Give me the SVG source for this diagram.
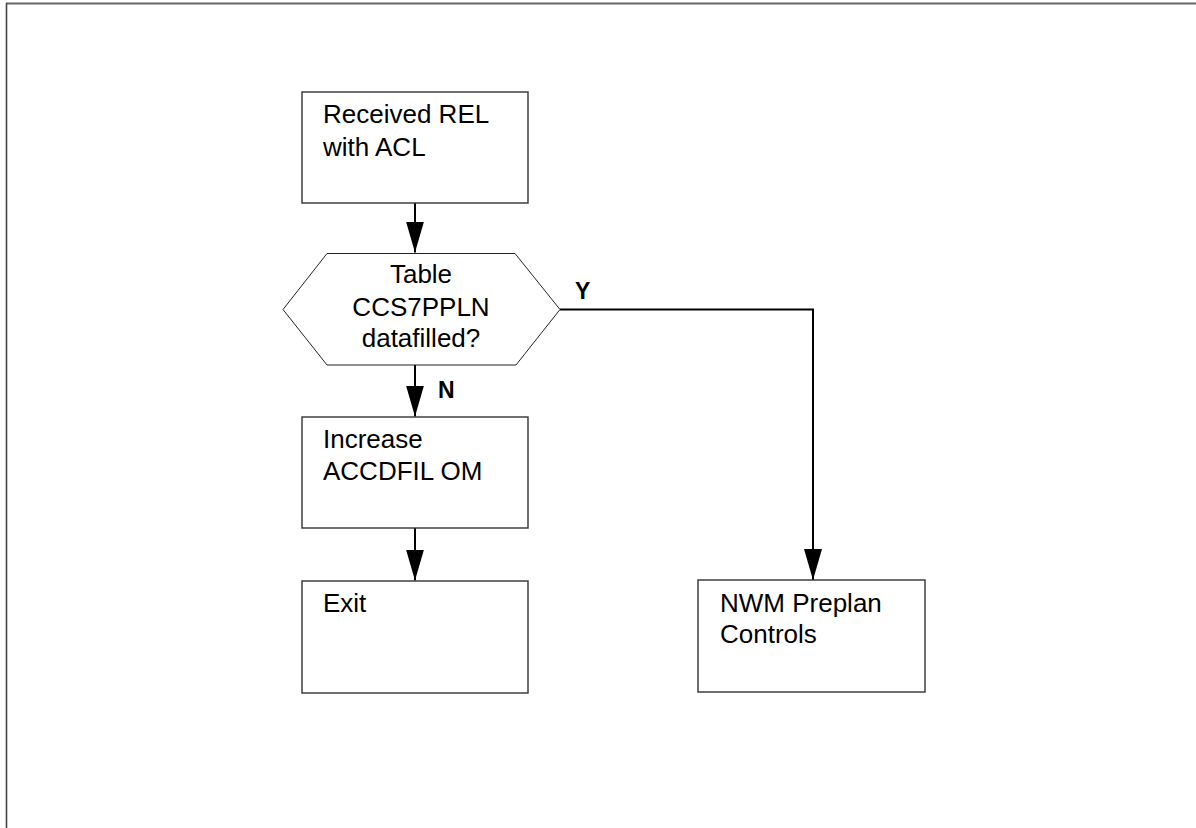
<svg xmlns="http://www.w3.org/2000/svg" width="1196" height="828" viewBox="0 0 1196 828">
<style>
.box{fill:#fff;stroke:#333;stroke-width:1.4}
.hex{fill:#fff;stroke:#222;stroke-width:1}
.t{font-family:"Liberation Sans",Arial,sans-serif;font-size:26px;fill:#000}
.lbl{font-family:"Liberation Sans",Arial,sans-serif;font-size:23px;font-weight:bold;fill:#000}
.conn{fill:none;stroke:#000;stroke-width:2}
</style>
<defs>
<marker id="ah" markerUnits="userSpaceOnUse" markerWidth="31" markerHeight="18" refX="31" refY="9" orient="auto" viewBox="0 0 31 18">
<path d="M0,0 L31,9 L0,18 Z" fill="#000"/>
</marker>
</defs>
<rect width="1196" height="828" fill="#fff"/>
<g id="frame">
<line x1="6" y1="3.5" x2="1196" y2="3.5" stroke="#666" stroke-width="2"/>
<line x1="6.5" y1="3" x2="6.5" y2="828" stroke="#444" stroke-width="1.6"/>
</g>
<g id="connectors">
<path class="conn" d="M415,203 L415,252.5" marker-end="url(#ah)"/>
<path class="conn" d="M415,365 L415,416.5" marker-end="url(#ah)"/>
<path class="conn" d="M415,528 L415,580.5" marker-end="url(#ah)"/>
<path class="conn" d="M560,309.5 L813,309.5 L813,580" marker-end="url(#ah)"/>
<text class="lbl" x="438" y="398">N</text>
<text class="lbl" x="575" y="299">Y</text>
</g>
<g id="n1">
<rect class="box" x="302" y="92" width="226" height="111"/>
<text class="t" x="323" y="123">Received REL</text>
<text class="t" x="323" y="155.5">with ACL</text>
</g>
<g id="n2">
<polygon class="hex" points="283,309.5 327,253.5 515,253.5 560,309.5 516,365 327,365"/>
<text class="t" x="421" y="283" text-anchor="middle">Table</text>
<text class="t" x="421" y="316" text-anchor="middle">CCS7PPLN</text>
<text class="t" x="421" y="347" text-anchor="middle">datafilled?</text>
</g>
<g id="n3">
<rect class="box" x="302" y="417" width="226" height="111"/>
<text class="t" x="323" y="448">Increase</text>
<text class="t" x="323" y="480">ACCDFIL OM</text>
</g>
<g id="n4">
<rect class="box" x="302" y="581" width="226" height="112"/>
<text class="t" x="323" y="612">Exit</text>
</g>
<g id="n5">
<rect class="box" x="698" y="580" width="227" height="112"/>
<text class="t" x="720" y="612">NWM Preplan</text>
<text class="t" x="720" y="643">Controls</text>
</g>
</svg>
